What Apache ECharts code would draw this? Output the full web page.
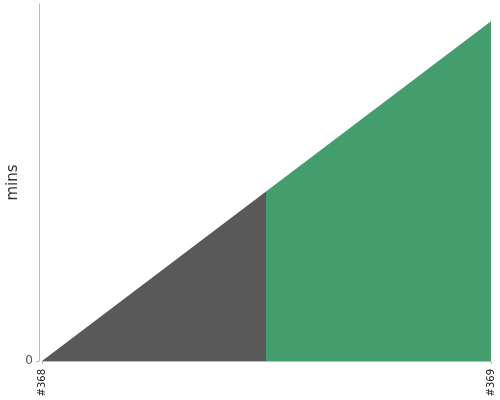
<!DOCTYPE html>
<html><head><meta charset="utf-8">
<script src="https://cdn.jsdelivr.net/npm/echarts@6/dist/echarts.min.js"></script>
<style>html,body{margin:0;padding:0;background:#fff}#c{width:500px;height:400px}</style>
</head><body><div id="c"></div>
<script>
var categories = ["#368", "#369"];
var durations = [0, 95.2];
var yTickValues = [0];
var chart = echarts.init(document.getElementById('c'));
chart.setOption({
  animation: false,
  grid: {left: 42, right: 9, top: 4, bottom: 39, containLabel: false, outerBoundsMode: 'none'},
  xAxis: {
    type: 'category', boundaryGap: false, data: categories,
    axisLine: {lineStyle: {color: '#bbb'}},
    axisTick: {show: true, length: 3, lineStyle: {color: '#bbb'}},
    axisLabel: {rotate: 90, interval: 0, color: '#222', fontSize: 10, margin: 8, fontFamily: 'DejaVu Sans'}
  },
  yAxis: {
    type: 'value', min: 0, max: 100, offset: 3,
    name: 'mins', nameLocation: 'middle', nameGap: 18, nameMoveOverlap: false,
    nameTextStyle: {color: '#333', fontSize: 15, fontFamily: 'DejaVu Sans'},
    splitLine: {show: false},
    axisLine: {show: true, lineStyle: {color: '#bbb'}},
    axisTick: {show: true, length: 3, customValues: yTickValues, lineStyle: {color: '#bbb'}},
    axisLabel: {color: '#555', fontSize: 12, margin: 6, fontFamily: 'DejaVu Sans', customValues: yTickValues}
  },
  series: [{
    type: 'line', data: durations, symbol: 'none',
    lineStyle: {width: 0},
    areaStyle: {opacity: 1, color: new echarts.graphic.LinearGradient(0, 0, 1, 0, [
      {offset: 0, color: '#595959'}, {offset: 0.5, color: '#595959'},
      {offset: 0.5, color: '#449d6d'}, {offset: 1, color: '#449d6d'}])}
  }]
});
</script></body></html>
